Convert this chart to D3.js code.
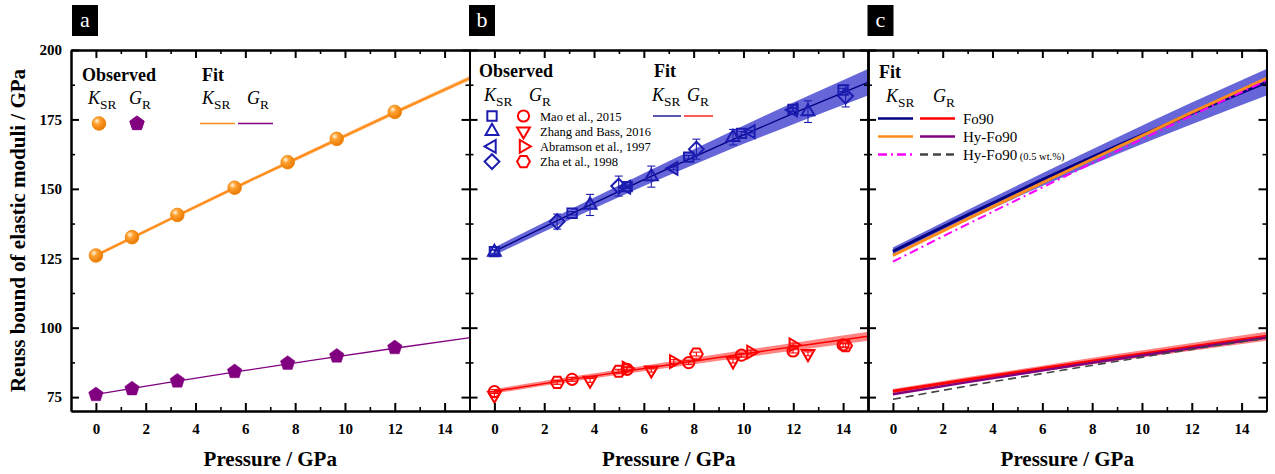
<!DOCTYPE html>
<html>
<head>
<meta charset="utf-8">
<script src="https://cdnjs.cloudflare.com/ajax/libs/d3/7.8.5/d3.min.js"></script>
<style>
    body { margin: 0; background: #fff; }
</style>
</head>
<body>
<script>
// ---- tick values ----
var xMajor = [0, 2, 4, 6, 8, 10, 12, 14];
var xMinor = [1, 3, 5, 7, 9, 11, 13];
var yMajor = [75, 100, 125, 150, 175, 200];
var yMinor = [87.5, 112.5, 137.5, 162.5, 187.5];
var panelNames = ["a", "b", "c"];

// ---- fitted curves (pressure grid + values) ----
var fitP = [0, 3, 6, 9, 12, 15];
var fitKHy = [126.0, 139.2, 152.2, 164.9, 177.5, 189.8];
var bandKHy = [0.6, 0.6, 0.6, 0.7, 0.7, 0.8];
var fitGHy = [76.0, 80.4, 84.6, 88.7, 92.6, 96.4];
var fitKFo = [127.5, 140.6, 153.3, 165.5, 177.2, 188.4];
var bandKFo = [1.4, 1.8, 2.3, 3.0, 3.9, 4.8];
var fitGFo = [77.1, 81.3, 85.3, 89.3, 93.1, 96.9];
var bandGFo = [0.8, 0.9, 1.0, 1.2, 1.4, 1.6];
var fitKWt = [123.8, 137.3, 150.5, 163.6, 176.4, 189.0];
var fitGWt = [74.2, 79.0, 83.5, 87.9, 92.2, 96.2];

// ---- panel a: observed Hy-Fo90 ----
var hyP = [0, 1.45, 3.27, 5.57, 7.7, 9.67, 12.0];
var hyK = [126.0, 132.6, 140.6, 150.4, 159.6, 168.0, 177.7];
var hyG = [75.9, 78.0, 80.8, 84.2, 87.2, 89.8, 92.8];

// ---- panel b: literature Fo90 ----
var maoP = [0, 3.12, 5.33, 7.8, 9.92, 11.99, 14.0];
var maoK = [127.4, 141.2, 150.8, 161.4, 170.0, 178.6, 185.6];
var maoKErr = [0.6, 0.6, 0.6, 0.6, 0.6, 0.6, 0.6];
var maoG = [77.0, 81.4, 85.0, 87.4, 90.1, 91.6, 93.8];

var zhangP = [0, 3.84, 6.3, 9.58, 12.59];
var zhangK = [127.2, 144.2, 154.4, 168.6, 177.8];
var zhangKErr = [0.8, 3.8, 3.8, 2.8, 3.9];
var zhangG = [75.6, 81.0, 84.7, 88.0, 90.6];

var abramP = [5.3, 7.2, 10.3, 12.0];
var abramK = [150.6, 157.4, 170.6, 178.4];
var abramKErr = [0.5, 0.5, 0.5, 0.5];
var abramG = [85.4, 87.8, 91.2, 93.8];

var zhaP = [2.52, 4.99, 8.11, 14.1];
var zhaK = [138.2, 151.0, 164.3, 183.4];
var zhaKErr = [2.7, 3.6, 3.6, 3.9];
var zhaG = [80.3, 84.3, 90.5, 93.5];

var gErr = 0.7;

// colours
var cOrange = "#ff8c1a", cPurple = "#800080", cBlue = "#1c1cb0", cNavy = "#000080",
    cRed = "#ff0000", cMagenta = "#ff00ff", cGrey = "#444444";

var W = 1275, H = 474;
var plotTop = 50, plotBottom = 411, plotLeft = 71, panelW = 398.5;
var serif = "'Liberation Serif', Tinos, 'Times New Roman', 'DejaVu Serif', serif";

var svg = d3.select("body").append("svg").attr("width", W).attr("height", H)
    .attr("font-family", serif).style("font-family", serif);

var defs = svg.append("defs");
var grad = defs.append("radialGradient").attr("id", "ball").attr("cx", "35%").attr("cy", "32%").attr("r", "70%");
grad.append("stop").attr("offset", "0%").attr("stop-color", "#fff6e0");
grad.append("stop").attr("offset", "35%").attr("stop-color", "#ffa030");
grad.append("stop").attr("offset", "100%").attr("stop-color", "#e87800");

var y = d3.scaleLinear().domain([70, 200]).range([plotBottom, plotTop]);

function makeX(i) {
    return d3.scaleLinear().domain([-1, 15])
        .range([plotLeft + i * panelW, plotLeft + (i + 1) * panelW]);
}

function polygon(n, r, rotDeg) {
    var pts = d3.range(n).map(function (k) {
        var a = (rotDeg + k * 360 / n) * Math.PI / 180;
        return [(r * Math.cos(a)).toFixed(2), (r * Math.sin(a)).toFixed(2)];
    });
    return "M" + pts.join("L") + "Z";
}

var shapes = {
    square: polygon(4, 6.6, 45),
    up: polygon(3, 7.4, -90),
    down: polygon(3, 7.4, 90),
    left: polygon(3, 7.4, 180),
    right: polygon(3, 7.4, 0),
    diamond: polygon(4, 7.4, 0),
    circle: d3.symbol().type(d3.symbolCircle).size(Math.PI * 5.6 * 5.6)(),
    hexagon: polygon(6, 6.4, 0),
    pentagon: polygon(5, 7.6, -90)
};

function styleAxis(sel, width) {
    sel.attr("font-family", serif);
    sel.select(".domain").attr("stroke", "#000").attr("stroke-width", 2);
    sel.selectAll(".tick line").attr("stroke", "#000").attr("stroke-width", width);
    sel.selectAll(".tick text").attr("fill", "#000")
        .style("font-family", serif)
        .style("font-size", "15px").style("font-weight", "bold");
}

function drawFrame(g, x, showY) {
    var xb = g.append("g").attr("transform", "translate(0," + plotBottom + ")")
        .call(d3.axisBottom(x).tickValues(xMajor).tickSize(-8).tickSizeOuter(0).tickPadding(12));
    styleAxis(xb, 2);
    var xbm = g.append("g").attr("transform", "translate(0," + plotBottom + ")")
        .call(d3.axisBottom(x).tickValues(xMinor).tickSize(-4).tickSizeOuter(0).tickFormat(""));
    styleAxis(xbm, 1.6);
    var xt = g.append("g").attr("transform", "translate(0," + plotTop + ")")
        .call(d3.axisTop(x).tickValues(xMajor).tickSize(-8).tickSizeOuter(0).tickFormat(""));
    styleAxis(xt, 2);
    var xtm = g.append("g").attr("transform", "translate(0," + plotTop + ")")
        .call(d3.axisTop(x).tickValues(xMinor).tickSize(-4).tickSizeOuter(0).tickFormat(""));
    styleAxis(xtm, 1.6);

    var x0 = x.range()[0], x1 = x.range()[1];
    var yl = g.append("g").attr("transform", "translate(" + x0 + ",0)")
        .call(d3.axisLeft(y).tickValues(yMajor).tickSize(-8).tickSizeOuter(0).tickPadding(9)
            .tickFormat(showY ? d3.format("d") : ""));
    styleAxis(yl, 2);
    var ylm = g.append("g").attr("transform", "translate(" + x0 + ",0)")
        .call(d3.axisLeft(y).tickValues(yMinor).tickSize(-4).tickSizeOuter(0).tickFormat(""));
    styleAxis(ylm, 1.6);
    var yr = g.append("g").attr("transform", "translate(" + x1 + ",0)")
        .call(d3.axisRight(y).tickValues(yMajor).tickSize(-8).tickSizeOuter(0).tickFormat(""));
    styleAxis(yr, 2);
    var yrm = g.append("g").attr("transform", "translate(" + x1 + ",0)")
        .call(d3.axisRight(y).tickValues(yMinor).tickSize(-4).tickSizeOuter(0).tickFormat(""));
    styleAxis(yrm, 1.6);

    g.append("text")
        .attr("x", (x0 + x1) / 2).attr("y", 466)
        .attr("text-anchor", "middle")
        .style("font-size", "21px").style("font-weight", "bold")
        .text("Pressure / GPa");
}

function pts(p, v, e) {
    return p.map(function (d, i) { return { p: d, v: v[i], e: e ? e[i] : 0 }; });
}

function drawBand(g, x, v, e, color, opacity) {
    var area = d3.area().curve(d3.curveMonotoneX)
        .x(function (d) { return x(d.p); })
        .y0(function (d) { return y(d.v - d.e); })
        .y1(function (d) { return y(d.v + d.e); });
    g.append("path").datum(pts(fitP, v, e))
        .attr("d", area).attr("fill", color).attr("fill-opacity", opacity).attr("stroke", "none");
}

function drawLine(g, x, v, color, width, dash) {
    var line = d3.line().curve(d3.curveMonotoneX)
        .x(function (d) { return x(d.p); })
        .y(function (d) { return y(d.v); });
    g.append("path").datum(pts(fitP, v))
        .attr("d", line).attr("fill", "none")
        .attr("stroke", color).attr("stroke-width", width)
        .attr("stroke-dasharray", dash || null);
}

function drawErr(g, x, data, color) {
    var eg = g.append("g").attr("stroke", color).attr("stroke-width", 1.1);
    data.forEach(function (d) {
        var cx = x(d.p);
        eg.append("line").attr("x1", cx).attr("x2", cx).attr("y1", y(d.v - d.e)).attr("y2", y(d.v + d.e));
        eg.append("line").attr("x1", cx - 4).attr("x2", cx + 4).attr("y1", y(d.v - d.e)).attr("y2", y(d.v - d.e));
        eg.append("line").attr("x1", cx - 4).attr("x2", cx + 4).attr("y1", y(d.v + d.e)).attr("y2", y(d.v + d.e));
    });
}

function drawMarkers(g, x, data, shape, stroke, fill, sw) {
    g.selectAll(null).data(data).enter().append("path")
        .attr("d", shapes[shape])
        .attr("transform", function (d) { return "translate(" + x(d.p) + "," + y(d.v) + ")"; })
        .attr("fill", fill).attr("stroke", stroke).attr("stroke-width", sw);
}

// text with subscript, e.g. K_SR
function subLabel(g, x0, y0, main, sub, size) {
    var t = g.append("text").attr("x", x0).attr("y", y0).style("font-size", size + "px");
    t.append("tspan").style("font-style", "italic").text(main);
    t.append("tspan").attr("dy", size * 0.28).style("font-size", (size * 0.74) + "px").text(sub);
    return t;
}

function boldText(g, x0, y0, s) {
    g.append("text").attr("x", x0).attr("y", y0)
        .style("font-size", "18px").style("font-weight", "bold").text(s);
}

var xs = [makeX(0), makeX(1), makeX(2)];

// ================= panel a =================
var ga = svg.append("g");
var xa = xs[0];
drawBand(ga, xa, fitKHy, bandKHy, "#ffb060", 0.8);
drawLine(ga, xa, fitKHy, cOrange, 2);
drawLine(ga, xa, fitGHy, cPurple, 1.3);
ga.selectAll(null).data(pts(hyP, hyK)).enter().append("circle")
    .attr("cx", function (d) { return xa(d.p); })
    .attr("cy", function (d) { return y(d.v); })
    .attr("r", 6.8).attr("fill", "url(#ball)").attr("stroke", "#f08000").attr("stroke-width", 0.8);
drawMarkers(ga, xa, pts(hyP, hyG), "pentagon", cPurple, cPurple, 0.5);

boldText(ga, 82, 81, "Observed");
subLabel(ga, 88, 104, "K", "SR", 18);
subLabel(ga, 129, 104, "G", "R", 18);
ga.append("circle").attr("cx", 99).attr("cy", 123.5).attr("r", 6.8)
    .attr("fill", "url(#ball)").attr("stroke", "#f08000").attr("stroke-width", 0.8);
ga.append("path").attr("d", shapes.pentagon).attr("transform", "translate(137,123.5)")
    .attr("fill", cPurple).attr("stroke", cPurple);
boldText(ga, 202, 81, "Fit");
subLabel(ga, 202, 104, "K", "SR", 18);
subLabel(ga, 247, 104, "G", "R", 18);
ga.append("line").attr("x1", 200).attr("x2", 235).attr("y1", 123.5).attr("y2", 123.5)
    .attr("stroke", cOrange).attr("stroke-width", 1.5);
ga.append("line").attr("x1", 238).attr("x2", 273).attr("y1", 123.5).attr("y2", 123.5)
    .attr("stroke", cPurple).attr("stroke-width", 1.5);

// ================= panel b =================
var gb = svg.append("g");
var xb = xs[1];
drawBand(gb, xb, fitKFo, bandKFo, "#0000c0", 0.6);
drawLine(gb, xb, fitKFo, cNavy, 1.3);
drawBand(gb, xb, fitGFo, bandGFo, "#ff2020", 0.55);
drawLine(gb, xb, fitGFo, cRed, 1.5);

var litSets = [
    { name: "Mao et al., 2015", p: maoP, k: maoK, kErr: maoKErr, g: maoG, ks: "square", gs: "circle" },
    { name: "Zhang and Bass, 2016", p: zhangP, k: zhangK, kErr: zhangKErr, g: zhangG, ks: "up", gs: "down" },
    { name: "Abramson et al., 1997", p: abramP, k: abramK, kErr: abramKErr, g: abramG, ks: "left", gs: "right" },
    { name: "Zha et al., 1998", p: zhaP, k: zhaK, kErr: zhaKErr, g: zhaG, ks: "diamond", gs: "hexagon" }
];

litSets.forEach(function (s) {
    var kd = pts(s.p, s.k, s.kErr);
    var gd = pts(s.p, s.g, s.p.map(function () { return gErr; }));
    drawErr(gb, xb, kd, cBlue);
    drawMarkers(gb, xb, kd, s.ks, cBlue, "none", 2);
    drawErr(gb, xb, gd, cRed);
    drawMarkers(gb, xb, gd, s.gs, cRed, "none", 2);
});

boldText(gb, 479, 77, "Observed");
subLabel(gb, 484, 101, "K", "SR", 18);
subLabel(gb, 529, 101, "G", "R", 18);
litSets.forEach(function (s, i) {
    var ry = 116 + i * 15.2;
    gb.append("path").attr("d", shapes[s.ks]).attr("transform", "translate(492," + ry + ")")
        .attr("fill", "none").attr("stroke", cBlue).attr("stroke-width", 2);
    gb.append("path").attr("d", shapes[s.gs]).attr("transform", "translate(523.5," + ry + ")")
        .attr("fill", "none").attr("stroke", cRed).attr("stroke-width", 2);
    gb.append("text").attr("x", 540).attr("y", ry + 4.5)
        .style("font-size", "12.5px").text(s.name);
});
boldText(gb, 654, 77, "Fit");
subLabel(gb, 652, 101, "K", "SR", 18);
subLabel(gb, 687, 101, "G", "R", 18);
gb.append("line").attr("x1", 653).attr("x2", 681).attr("y1", 116).attr("y2", 116)
    .attr("stroke", cNavy).attr("stroke-width", 1.3);
gb.append("line").attr("x1", 684).attr("x2", 713).attr("y1", 116).attr("y2", 116)
    .attr("stroke", cRed).attr("stroke-width", 1.3);

// ================= panel c =================
var gc = svg.append("g");
var xc = xs[2];
drawBand(gc, xc, fitKFo, bandKFo, "#0000c0", 0.6);
drawLine(gc, xc, fitKFo, cNavy, 3);
drawLine(gc, xc, fitKHy, cOrange, 3);
drawLine(gc, xc, fitKWt, cMagenta, 2, "9,4,2,4");
drawBand(gc, xc, fitGFo, bandGFo, "#ff2020", 0.55);
drawLine(gc, xc, fitGFo, cRed, 3);
drawLine(gc, xc, fitGHy, cPurple, 2.5);
drawLine(gc, xc, fitGWt, cGrey, 1.6, "8,5");

boldText(gc, 879, 78, "Fit");
subLabel(gc, 886, 102, "K", "SR", 18);
subLabel(gc, 933, 102, "G", "R", 18);
var cRows = [
    { k: cNavy, g: cRed, kd: null, gd: null, label: "Fo90", note: "" },
    { k: cOrange, g: cPurple, kd: null, gd: null, label: "Hy-Fo90", note: "" },
    { k: cMagenta, g: cGrey, kd: "9,4,2,4", gd: "8,5", label: "Hy-Fo90", note: " (0.5 wt.%)" }
];
cRows.forEach(function (r, i) {
    var ry = 118.5 + i * 18;
    gc.append("line").attr("x1", 878).attr("x2", 913).attr("y1", ry).attr("y2", ry)
        .attr("stroke", r.k).attr("stroke-width", 2.5).attr("stroke-dasharray", r.kd);
    gc.append("line").attr("x1", 920).attr("x2", 955).attr("y1", ry).attr("y2", ry)
        .attr("stroke", r.g).attr("stroke-width", 2.5).attr("stroke-dasharray", r.gd);
    var t = gc.append("text").attr("x", 963).attr("y", ry + 5.5).style("font-size", "15px").text(r.label);
    if (r.note) t.append("tspan").style("font-size", "10.5px").text(r.note);
});

// frames and axes on top
xs.forEach(function (x, i) {
    drawFrame(svg.append("g"), x, i === 0);
    var bx = x.range()[0] + (i === 0 ? 1 : -0.5);
    svg.append("rect").attr("x", bx).attr("y", 5).attr("width", 26).attr("height", 31).attr("fill", "#000");
    svg.append("text").attr("x", bx + 13).attr("y", 27).attr("text-anchor", "middle")
        .attr("fill", "#fff").style("font-size", "22px").text(panelNames[i]);
});

svg.append("text")
    .attr("transform", "translate(25," + ((plotTop + plotBottom) / 2) + ") rotate(-90)")
    .attr("text-anchor", "middle")
    .style("font-size", "21px").style("font-weight", "bold")
    .text("Reuss bound of elastic moduli / GPa");
</script>
</body>
</html>
